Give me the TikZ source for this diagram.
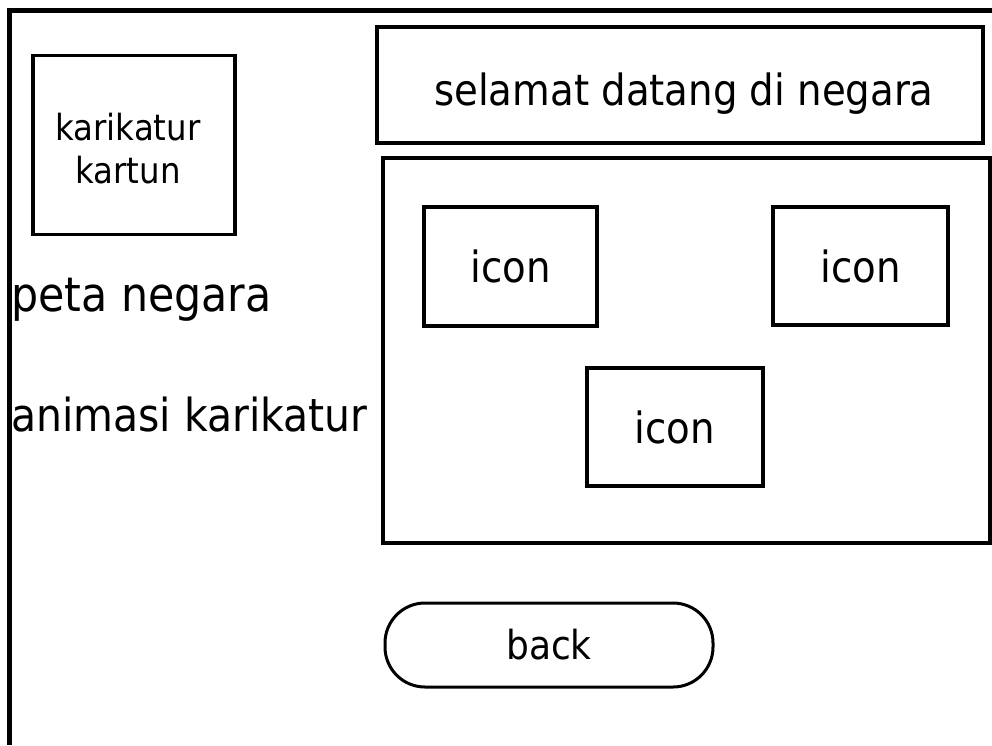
\documentclass[tikz,border=0pt]{standalone}
\usepackage{fontspec}
\setmainfont{DejaVu Sans Condensed}
\begin{document}
\begin{tikzpicture}[x=1pt,y=-1pt,
  box/.style={draw=black,line width=3.5pt,inner sep=0pt},
  lefttext/.style={font=\fontsize{47.5}{54}\selectfont,anchor=base west,inner sep=0pt},
  animtext/.style={font=\fontsize{45.5}{54}\selectfont,anchor=base west,inner sep=0pt},
  titletext/.style={font=\fontsize{43}{50}\selectfont,text depth=0pt},
  icontext/.style={font=\fontsize{43}{50}\selectfont},
  backtext/.style={font=\fontsize{40}{48}\selectfont},
  small/.style={font=\fontsize{36}{43}\selectfont}]
\useasboundingbox (0,0) rectangle (992,745);
\fill[white] (0,0) rectangle (992,745);
% outer frame (only top and left visible)
\coordinate (tl) at (9.5,10.5);
\coordinate (tr) at (992,10.5);
\coordinate (bl) at (9.5,745);
\draw[line width=5pt] (tr) -- (tl) -- (bl);
% cartoon box
\node[box,minimum width=202pt,minimum height=179pt] (kar) at (134,145) {};
\node[small,align=center,inner sep=0pt] (kartext) at (128,149) {karikatur\\kartun};
% title
\node[box,minimum width=606pt,minimum height=116pt] (title) at (680,85) {};
\node[titletext,inner sep=0pt] (titlet) at (684,89) {selamat datang di negara};
% main panel
\node[box,minimum width=607pt,minimum height=385pt] (panel) at (686.5,350.5) {};
\node[box,minimum width=173pt,minimum height=119pt,icontext] (i1) at (510.5,266.5) {icon};
\node[box,minimum width=175pt,minimum height=118pt,icontext] (i2) at (860.5,266) {icon};
\node[box,minimum width=176pt,minimum height=118pt,icontext] (i3) at (675,427) {icon};
% left texts
\node[lefttext] (peta) at (11,311) {peta negara};
\node[animtext] (anim) at (11,431) {animasi karikatur};
% back button
\node[draw=black,line width=3pt,rounded corners=40pt,minimum width=328pt,minimum height=84pt,inner sep=0pt,backtext] (back) at (549,645) {back};
\end{tikzpicture}
\end{document}
